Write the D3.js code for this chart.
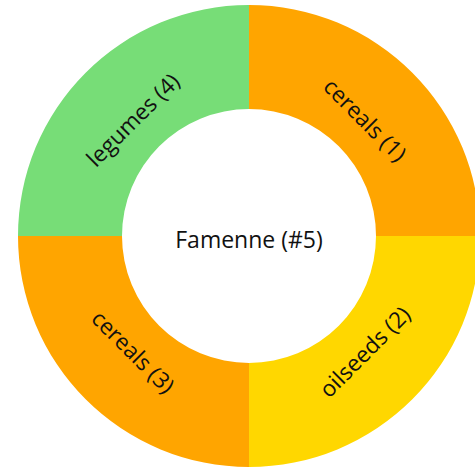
<!DOCTYPE html>
<html>
<head>
<meta charset="utf-8">
<script src="https://d3js.org/d3.v7.min.js"></script>
<style>
  body { margin: 0; background: #fff; }
  svg { display: block; font-family: "Open Sans", sans-serif; }
</style>
</head>
<body>
<svg id="chart" width="475" height="472"></svg>
<script>
// slices, clockwise from 12 o'clock
var crops = ["cereals", "oilseeds", "cereals", "legumes"];
var ranks = [1, 2, 3, 4];
var shares = [1, 1, 1, 1];
var colors = ["#ffa500", "#ffd700", "#ffa500", "#77dd77"];
var centreLabel = "Famenne (#5)";

var width = 475, height = 472;
var cx = 249, cy = 236;
var outer = 231, inner = 127, labelR = 164;

var svg = d3.select("#chart");
var g = svg.append("g").attr("transform", "translate(" + cx + "," + cy + ")");

var slices = crops.map(function(c, i) {
  return { crop: c, rank: ranks[i], share: shares[i], color: colors[i] };
});

var pie = d3.pie().sort(null).value(function(d) { return d.share; });
var arc = d3.arc().innerRadius(inner).outerRadius(outer);

var arcs = pie(slices);

g.selectAll("path")
  .data(arcs)
  .enter().append("path")
  .attr("d", arc)
  .attr("fill", function(d) { return d.data.color; });

g.selectAll("text.lbl")
  .data(arcs)
  .enter().append("text")
  .attr("class", "lbl")
  .attr("text-anchor", "middle")
  .attr("dy", "0.35em")
  .style("font-size", "22.5px")
  .attr("fill", "#111")
  .attr("transform", function(d) {
    var a = (d.startAngle + d.endAngle) / 2;
    var x = Math.sin(a) * labelR, y = -Math.cos(a) * labelR;
    var deg = a * 180 / Math.PI;
    if (deg > 90 && deg <= 270) deg -= 180;
    if (deg > 270) deg -= 360;
    return "translate(" + x + "," + y + ") rotate(" + deg + ")";
  })
  .text(function(d) { return d.data.crop + " (" + d.data.rank + ")"; });

g.append("text")
  .attr("text-anchor", "middle")
  .attr("dy", "0.35em")
  .attr("y", 4)
  .style("font-size", "23px")
  .attr("fill", "#111")
  .text(centreLabel);
</script>
</body>
</html>
